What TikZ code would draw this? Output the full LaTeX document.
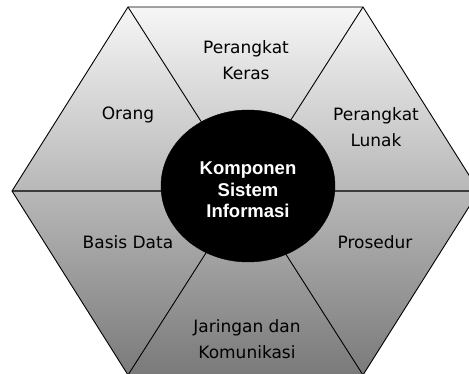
\documentclass[tikz,border=0pt]{standalone}
\usepackage{fontspec}
\usetikzlibrary{shapes.geometric}
\newfontfamily\labfont{DejaVu Sans}
\newfontfamily\ctrfont{Liberation Sans}
\definecolor{htop}{RGB}{246,246,246}
\definecolor{hmid}{RGB}{205,205,205}
\definecolor{hbot}{RGB}{122,122,122}
\definecolor{midline}{RGB}{60,60,60}
\tikzset{
  lab/.style={font=\labfont\fontsize{17}{26.5}\selectfont, align=center, inner sep=0pt, text=black},
  ctrlab/.style={font=\ctrfont\bfseries\fontsize{18.5}{21.5}\selectfont, align=center, inner sep=0pt, text=white},
  edge/.style={draw=black, line width=0.9pt},
}
\begin{document}
\begin{tikzpicture}[x=1pt,y=-1pt]
\useasboundingbox (0,0) rectangle (469,374);
\clip (0,0) rectangle (469,374);
\fill[white] (0,0) rectangle (469,374);
% vertices
\coordinate (TL) at (128,7);
\coordinate (TR) at (363,7);
\coordinate (R) at (479,191);
\coordinate (BR) at (363,375);
\coordinate (BL) at (128,375);
\coordinate (L) at (12,191);
\coordinate (HC) at (245.5,191);
% hexagon fill
\shade[top color=htop, middle color=hmid, bottom color=hbot]
  (TL) -- (TR) -- (R) -- (BR) -- (BL) -- (L) -- cycle;
% spokes
\draw[edge] (TL) -- (HC);
\draw[edge] (TR) -- (HC);
\draw[edge] (BR) -- (HC);
\draw[edge] (BL) -- (HC);
\draw[draw=midline, line width=1.2pt] (L) -- (R);
% outline
\draw[edge, line join=miter] (TL) -- (TR) -- (R) -- (BR) -- (BL) -- (L) -- cycle;
% center ellipse
\node[draw=black, fill=black, ellipse, minimum width=174pt, minimum height=152pt, inner sep=0pt] (core) at (248,186) {};
\node[ctrlab] (coretext) at (248,190) {Komponen\\Sistem\\Informasi};
% labels
\node[lab] (keras) at (246,60) {Perangkat\\Keras};
\node[lab] (orang) at (128,115) {Orang};
\node[lab] (lunak) at (376,127) {Perangkat\\Lunak};
\node[lab] (basis) at (128,242) {Basis Data};
\node[lab] (prosedur) at (375,242) {Prosedur};
\node[lab] (jaringan) at (247,339) {Jaringan dan\\Komunikasi};
\end{tikzpicture}
\end{document}
